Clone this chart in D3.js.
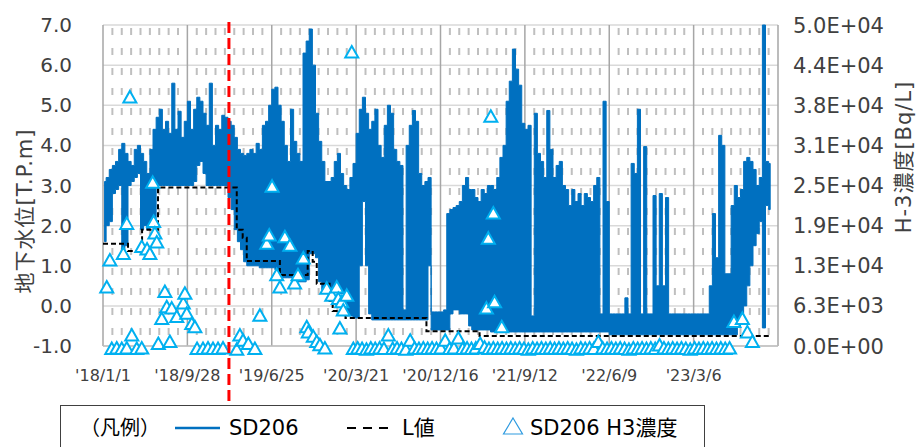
<!DOCTYPE html>
<html>
<head>
<meta charset="utf-8">
<script src="https://cdn.jsdelivr.net/npm/d3@7"></script>
<style>
  body { margin: 0; background: #fff; }
  svg { display: block; font-family: "DejaVu Sans", "Noto Sans CJK JP", sans-serif; }
</style>
</head>
<body>
<svg id="chart" width="916" height="447"></svg>
<script>
'use strict';

// SD206 water level [T.P.m]: max / min of each 10-day period, from 2018-01-01
const sdStart = "2018-01-01";
const sdStepDays = 10;
const sdHigh = [
  3.1, 3.2, 3.4, 3.5, 3.6, 3.9, 4.05, 3.8, 3.6, 3.5, 3.9, 4.0, 3.8, 3.6, 3.3, 3.9, 4.4, 4.7, 4.9, 4.4, 4.6, 4.3, 5.55, 4.4, 4.85, 4.2, 4.6,
  5.1, 4.4, 4.9, 5.2, 5.1, 4.8, 4.5, 5.55, 4.0, 4.5, 4.4, 4.75, 4.7, 4.6, 4.5, 4.2, 3.9, 3.8, 3.75, 3.8, 3.9, 3.8, 4.05, 3.9, 4.5, 4.6, 5.0,
  5.4, 5.45, 5.0, 4.6, 4.0, 3.6, 4.9, 4.1, 3.8, 3.6, 6.3, 6.6, 6.9, 6.0, 4.8, 4.1, 3.6, 3.1, 3.1, 3.2, 3.6, 3.8, 3.3, 3.0, 2.9, 3.2, 3.55,
  4.3, 4.9, 5.2, 4.8, 4.4, 4.6, 4.9, 4.0, 3.7, 4.5, 5.0, 4.8, 3.9, 3.6, 3.5, -0.1, 4.0, 4.5, 4.87, 4.6, 3.3, 3.0, 3.1, 3.2, -0.15, -0.15, -0.15,
  -0.15, -0.1, 2.3, 2.4, 2.45, 2.5, 2.6, 3.0, 3.2, 2.9, 2.9, 2.7, 2.6, 2.9, 2.8, 3.0, 3.0, 2.9, 3.2, 3.7, 4.0, 5.1, 5.6, 6.4, 5.9, 5.5, 4.55,
  4.4, 4.5, -0.25, 4.8, 3.8, 3.6, 3.2, 4.87, 3.9, 3.2, 3.5, 3.6, 3.0, 2.9, 2.5, 2.9, 2.6, 2.8, 2.5, 2.8, 2.7, 2.6, 3.0, 3.2, -0.2, 5.1, 2.6,
  -0.2, -0.2, -0.2, -0.2, -0.2, 0.2, -0.2, 3.55, 3.3, 4.9, -0.2, 3.97, -0.2, -0.2, 2.75, 0.5, 2.8, 0.5, 2.7, -0.2, -0.2, -0.2, -0.2, -0.2, -0.2, -0.2, -0.2,
  -0.2, -0.2, -0.2, -0.2, -0.2, 0.5, 2.3, 1.2, 4.25, 4.0, 0.8, 0.8, 2.5, 3.0, 2.7, 2.9, 3.6, 3.7, 3.6, 3.4, 3.0, 3.2, 7.0, 3.6, 3.55
];
const sdLow = [
  1.6, 2.0, 2.1, 2.8, 2.9, 3.0, 1.4, 1.5, 3.0, 3.1, 3.2, 3.3, 1.9, 2.0, 1.9, 2.0, 1.9, 3.0, 3.0, 3.0, 3.0, 3.0, 3.0, 3.0, 3.0, 3.0, 3.0,
  3.0, 3.0, 3.1, 3.5, 3.6, 3.3, 3.0, 3.0, 3.0, 3.0, 3.0, 3.0, 3.0, 2.7, 2.4, 1.9, 1.6, 1.4, 1.1, 1.0, 1.0, 1.0, 1.0, 0.95, 0.95, 0.95, 0.95,
  0.95, 0.9, 0.8, 0.7, 0.7, 0.7, 0.7, 0.65, 0.6, 0.6, 0.6, 0.65, 1.3, 1.3, 1.2, 0.6, 0.4, 0.4, 0.4, 0.4, 0.4, 0.4, 0.3, -0.2, -0.25, -0.25, -0.3,
  -0.3, 1.0, 2.6, 1.0, -0.2, -0.35, -0.35, -0.35, -0.35, -0.35, -0.35, -0.35, -0.35, -0.35, -0.35, -0.35, -0.35, -0.35, -0.35, -0.35, -0.35, -0.35, -0.35, 1.0, -0.6, -0.6, -0.6,
  -0.6, -0.6, -0.6, -0.2, -0.1, -0.1, -0.2, -0.2, -0.2, -0.5, -0.6, -0.6, -0.6, -0.6, -0.6, -0.6, -0.65, -0.65, -0.65, -0.65, -0.65, -0.65, -0.65, -0.65, -0.65, -0.65, -0.65,
  -0.65, -0.65, -0.65, -0.65, -0.65, -0.65, -0.65, -0.65, -0.65, -0.65, -0.65, -0.65, -0.65, -0.65, -0.65, -0.65, -0.65, -0.65, -0.65, -0.65, -0.65, -0.65, -0.65, -0.65, -0.65, -0.65, -0.65,
  -0.72, -0.72, -0.72, -0.72, -0.72, -0.72, -0.72, -0.72, -0.72, -0.72, -0.72, -0.72, -0.72, -0.72, -0.72, -0.72, -0.72, -0.72, -0.72, -0.72, -0.72, -0.72, -0.72, -0.72, -0.72, -0.72, -0.72,
  -0.72, -0.72, -0.72, -0.72, -0.72, -0.72, -0.72, -0.72, -0.72, -0.72, -0.72, -0.72, -0.72, -0.72, -0.5, -0.3, 0.0, 0.5, 1.0, 1.5, 1.8, 2.1, -0.55, 2.5, 2.4
];

// L値 (step line)
const lDates = ["2018-01-01", "2018-03-22", "2018-05-06", "2018-06-26", "2019-03-05", "2019-03-24", "2019-04-06", "2019-07-21",
  "2019-10-18", "2019-11-03", "2019-11-16", "2019-12-27", "2020-01-06", "2020-02-16", "2020-11-01", "2021-04-20", "2023-11-02"];
const lValues = [1.55, 1.37, 1.9, 2.95, 1.9, 1.7, 1.12, 0.77, 1.37, 1.1, 0.55, 0.12, -0.13, -0.3, -0.63, -0.75, -0.75];

// SD206 H3 concentration [Bq/L]
const h3Samples = [
  ["2018-01-13", 9200], ["2018-01-23", 13400], ["2018-01-29", -400], ["2018-02-14", -300], ["2018-03-02", -400],
  ["2018-03-07", 14400], ["2018-03-18", 19100], ["2018-03-18", -300], ["2018-03-28", 38800], ["2018-04-03", 1700],
  ["2018-04-19", -400], ["2018-05-05", 15500], ["2018-05-05", -300], ["2018-05-22", 15100], ["2018-05-31", 14400],
  ["2018-06-09", 25500], ["2018-06-12", 19400], ["2018-06-16", 17600], ["2018-06-22", 16200], ["2018-06-27", 400],
  ["2018-07-08", 4300], ["2018-07-18", 8500], ["2018-07-24", 6100], ["2018-08-03", 700], ["2018-08-09", 5900],
  ["2018-08-25", 4600], ["2018-09-15", 6700], ["2018-09-20", 8200], ["2018-09-26", 5100], ["2018-10-12", 3500],
  ["2018-10-22", 3000], ["2018-10-29", -400], ["2018-11-17", -400], ["2018-12-03", -300], ["2018-12-19", -400],
  ["2019-01-04", -400], ["2019-01-20", -300], ["2019-03-05", -500], ["2019-03-15", 1700], ["2019-03-25", 900],
  ["2019-04-11", 400], ["2019-05-02", -400], ["2019-05-18", 4800], ["2019-06-09", 16000], ["2019-06-17", 17300],
  ["2019-06-26", 24900], ["2019-07-11", 11100], ["2019-07-21", 9200], ["2019-08-06", 17000], ["2019-08-22", 15700],
  ["2019-09-06", 9800], ["2019-09-17", 11100], ["2019-10-04", 13700], ["2019-10-15", 3000], ["2019-10-20", 2200],
  ["2019-11-05", 1500], ["2019-11-16", 700], ["2019-11-26", 200], ["2019-12-12", -300], ["2019-12-18", 9000],
  ["2020-01-03", 7900], ["2020-01-19", 9200], ["2020-01-24", 7400], ["2020-01-29", 2800], ["2020-02-04", 6900],
  ["2020-02-09", 5600], ["2020-02-20", 7900], ["2020-03-07", 45800],
  ["2020-03-12", -400], ["2020-03-26", -300], ["2020-04-09", -400], ["2020-04-23", -500], ["2020-05-07", -300],
  ["2020-05-21", -400], ["2020-06-04", -300], ["2020-06-18", -400], ["2020-07-02", 1700], ["2020-07-16", -400],
  ["2020-07-30", -300], ["2020-08-13", -400], ["2020-08-27", -500], ["2020-09-10", 900], ["2020-09-24", -300],
  ["2020-10-08", -400], ["2020-10-22", -300], ["2020-11-05", -400], ["2020-11-19", -300], ["2020-12-03", -400],
  ["2020-12-17", -300], ["2020-12-31", 900], ["2021-01-14", -400], ["2021-01-28", -300], ["2021-02-11", 1250],
  ["2021-02-25", -400], ["2021-03-11", -300], ["2021-03-25", -400], ["2021-04-08", -300], ["2021-04-22", 400],
  ["2021-05-06", -200], ["2021-05-12", 5900], ["2021-05-18", 16800], ["2021-05-20", -400], ["2021-05-26", 35800],
  ["2021-06-03", 20700], ["2021-06-03", -300], ["2021-06-07", 6900], ["2021-06-17", -400], ["2021-06-30", 3000],
  ["2021-07-01", -300], ["2021-07-15", -400], ["2021-07-29", -300], ["2021-08-12", -400], ["2021-08-26", -300],
  ["2021-09-09", -400], ["2021-09-23", -500], ["2021-10-07", -300], ["2021-10-21", -400], ["2021-11-04", -300],
  ["2021-11-18", -400], ["2021-12-02", -300], ["2021-12-16", -400], ["2021-12-30", -300], ["2022-01-13", -400],
  ["2022-01-27", -300], ["2022-02-10", -400], ["2022-02-24", -500], ["2022-03-10", -300], ["2022-03-24", -400],
  ["2022-04-07", -300], ["2022-04-21", -400], ["2022-05-05", 700], ["2022-05-19", -300], ["2022-06-02", -400],
  ["2022-06-16", -300], ["2022-06-30", -400], ["2022-07-14", -300], ["2022-07-28", -400], ["2022-08-11", -500],
  ["2022-08-25", -300], ["2022-09-08", -400], ["2022-09-22", -300], ["2022-10-06", -400], ["2022-10-20", -300],
  ["2022-11-03", -400], ["2022-11-17", 150], ["2022-12-01", -300], ["2022-12-15", -400], ["2022-12-29", -300],
  ["2023-01-12", -400], ["2023-01-26", -300], ["2023-02-09", -400], ["2023-02-23", -500], ["2023-03-09", -300],
  ["2023-03-23", -400], ["2023-04-06", -300], ["2023-04-20", -400], ["2023-05-04", -300], ["2023-05-18", -400],
  ["2023-06-01", -300], ["2023-06-15", -400], ["2023-06-29", -300], ["2023-07-13", 3800], ["2023-08-09", 4300],
  ["2023-08-25", 2200], ["2023-09-10", 700]
];

const markerDate = "2019-02-08";
const xDomain = ["2018-01-01", "2023-12-01"];
const xTickDates = ["2018-01-01", "2018-09-28", "2019-06-25", "2020-03-21", "2020-12-16", "2021-09-12", "2022-06-09", "2023-03-06", "2023-12-01"];
const xTickLabels = ["'18/1/1", "'18/9/28", "'19/6/25", "'20/3/21", "'20/12/16", "'21/9/12", "'22/6/9", "'23/3/6", ""];
const leftTicks = [-1, 0, 1, 2, 3, 4, 5, 6, 7];
const rightTicks = [0, 6250, 12500, 18750, 25000, 31250, 37500, 43750, 50000];
const rightTickLabels = ["0.0E+00", "6.3E+03", "1.3E+04", "1.9E+04", "2.5E+04", "3.1E+04", "3.8E+04", "4.4E+04", "5.0E+04"];

const parse = d3.utcParse("%Y-%m-%d");
const plotL = 103, plotR = 778, plotT = 25, plotB = 346;

const x = d3.scaleUtc().domain(xDomain.map(parse)).range([plotL, plotR]);
const y = d3.scaleLinear().domain([-1, 7]).range([plotB, plotT]);
const y2 = d3.scaleLinear().domain([0, 50000]).range([plotB, plotT]);

const svg = d3.select("#chart");

// grid
const grid = svg.append("g");
const t0 = parse(xDomain[0]);
const minorDays = d3.range(30, 2160, 30).filter(d => d % 270 !== 0);
grid.selectAll("line.minor")
  .data(minorDays)
  .join("line")
  .attr("x1", d => x(d3.utcDay.offset(t0, d)))
  .attr("x2", d => x(d3.utcDay.offset(t0, d)))
  .attr("y1", plotT).attr("y2", plotB)
  .attr("stroke", "#bfbfbf")
  .attr("stroke-width", 2)
  .attr("stroke-dasharray", "7,13")
  .attr("stroke-dashoffset", 17);

grid.selectAll("line.h")
  .data(leftTicks)
  .join("line")
  .attr("x1", plotL).attr("x2", plotR)
  .attr("y1", d => y(d)).attr("y2", d => y(d))
  .attr("stroke", "#d9d9d9")
  .attr("stroke-width", 1.5);

grid.selectAll("line.major")
  .data(xTickDates)
  .join("line")
  .attr("x1", d => x(parse(d))).attr("x2", d => x(parse(d)))
  .attr("y1", plotT).attr("y2", plotB)
  .attr("stroke", "#a6a6a6")
  .attr("stroke-width", 1.5);

grid.append("line")
  .attr("x1", plotL).attr("x2", plotR).attr("y1", plotB).attr("y2", plotB)
  .attr("stroke", "#bfbfbf").attr("stroke-width", 1.5);

// SD206
const sdRows = sdHigh.map((h, i) => ({
  date: d3.utcDay.offset(parse(sdStart), i * sdStepDays + sdStepDays / 2),
  hi: h,
  lo: sdLow[i]
}));

svg.append("path")
  .datum(sdRows)
  .attr("fill", "#0070c0")
  .attr("stroke", "#0070c0")
  .attr("stroke-width", 1)
  .attr("stroke-linejoin", "round")
  .attr("d", d3.area()
    .curve(d3.curveStep)
    .x(d => x(d.date))
    .y0(d => y(d.lo))
    .y1(d => y(d.hi)));

// L値
const lRows = lDates.map((d, i) => ({ date: parse(d), v: lValues[i] }));
svg.append("path")
  .datum(lRows)
  .attr("fill", "none")
  .attr("stroke", "#000")
  .attr("stroke-width", 2)
  .attr("stroke-dasharray", "5,3")
  .attr("d", d3.line().curve(d3.curveStepAfter).x(d => x(d.date)).y(d => y(d.v)));

// H3 markers
const tri = "M0,-6L6.5,5.5L-6.5,5.5Z";
svg.append("g")
  .selectAll("path")
  .data(h3Samples)
  .join("path")
  .attr("d", tri)
  .attr("transform", d => `translate(${x(parse(d[0]))},${y2(d[1])})`)
  .attr("fill", "#fff")
  .attr("stroke", "#00b0f0")
  .attr("stroke-width", 2);

// red marker line
svg.append("line")
  .attr("x1", x(parse(markerDate))).attr("x2", x(parse(markerDate)))
  .attr("y1", 22).attr("y2", 406)
  .attr("stroke", "#ff0000")
  .attr("stroke-width", 3)
  .attr("stroke-dasharray", "11,5");

// axis labels
svg.append("g")
  .selectAll("text")
  .data(leftTicks)
  .join("text")
  .attr("x", 72)
  .attr("y", d => y(d) + 7)
  .attr("text-anchor", "end")
  .style("font-size", "20px")
  .style("fill", "#404040")
  .text(d => d3.format(".1f")(d).replace("−", "-"));

svg.append("g")
  .selectAll("text")
  .data(rightTicks)
  .join("text")
  .attr("x", 793)
  .attr("y", d => y2(d) + 7.5)
  .style("font-size", "21px")
  .style("fill", "#404040")
  .text((d, i) => rightTickLabels[i]);

svg.append("g")
  .selectAll("text")
  .data(xTickDates)
  .join("text")
  .attr("x", d => x(parse(d)))
  .attr("y", 381)
  .attr("text-anchor", "middle")
  .style("font-size", "16px")
  .style("fill", "#404040")
  .text((d, i) => xTickLabels[i]);

svg.append("text")
  .attr("transform", "translate(32,211) rotate(-90)")
  .attr("text-anchor", "middle")
  .style("font-size", "21px")
  .style("letter-spacing", "1px")
  .style("fill", "#404040")
  .text("地下水位[T.P.m]");

svg.append("text")
  .attr("transform", "translate(911,157) rotate(-90)")
  .attr("text-anchor", "middle")
  .style("font-size", "21px")
  .style("letter-spacing", "1px")
  .style("fill", "#404040")
  .text("H-3濃度[Bq/L]");

// legend
const legend = svg.append("g");
legend.append("rect")
  .attr("x", 60.5).attr("y", 405.5)
  .attr("width", 644).attr("height", 60)
  .attr("fill", "#fff")
  .attr("stroke", "#404040");
legend.append("text").attr("x", 80).attr("y", 435).style("font-size", "20px").text("（凡例）");
legend.append("line").attr("x1", 175).attr("x2", 220).attr("y1", 428).attr("y2", 428)
  .attr("stroke", "#0070c0").attr("stroke-width", 2.5);
legend.append("text").attr("x", 229).attr("y", 435).style("font-size", "21px").text("SD206");
legend.append("line").attr("x1", 347).attr("x2", 393).attr("y1", 428).attr("y2", 428)
  .attr("stroke", "#000").attr("stroke-width", 2).attr("stroke-dasharray", "9,7");
legend.append("text").attr("x", 402).attr("y", 435).style("font-size", "21px").text("L値");
legend.append("path").attr("d", "M0,-9L9.5,7L-9.5,7Z").attr("transform", "translate(513,427)")
  .attr("fill", "none").attr("stroke", "#2e9be0").attr("stroke-width", 1.2);
legend.append("text").attr("x", 530).attr("y", 435).style("font-size", "21px").text("SD206 H3濃度");
</script>
</body>
</html>
